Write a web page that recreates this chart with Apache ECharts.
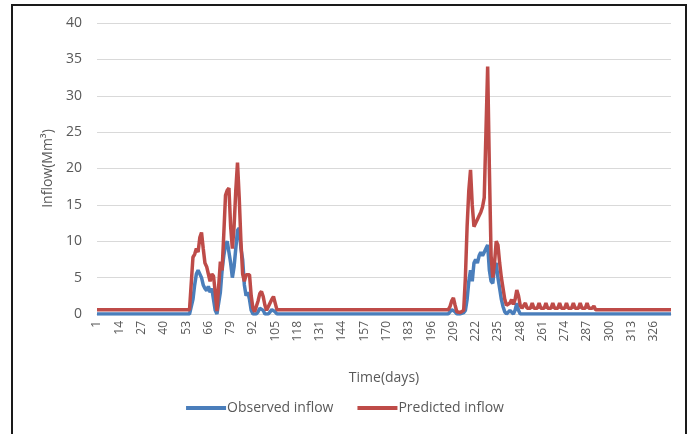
<!DOCTYPE html>
<html>
<head>
<meta charset="utf-8">
<script src="https://cdn.jsdelivr.net/npm/echarts@6/dist/echarts.min.js"></script>
<style>
html,body{margin:0;padding:0;background:#fff;}
#chart{width:690px;height:434px;}
</style>
</head>
<body>
<div id="chart"></div>
<script>
// Day numbers 1..336
const days = [];
for (let d = 1; d <= 336; d++) days.push(String(d));

const observedInflow = [
 0,0,0,0,0,0,0,0,0,0,
 0,0,0,0,0,0,0,0,0,0,
 0,0,0,0,0,0,0,0,0,0,
 0,0,0,0,0,0,0,0,0,0,
 0,0,0,0,0,0,0,0,0,0,
 0,0,0,0,0,0,2,4,5.5,6,
 6.2,5,4,3.5,3.2,3.8,3,3.5,2,0.5,
 0,0,3,6,8,9.5,10,10.2,7,5,
 6.5,9,11.5,11.8,9,7.5,4,2.5,3,2,
 0.5,0,0,0,0.3,0.8,1,0.5,0,0,
 0,0.3,0.6,0.8,0.3,0,0,0,0,0,
 0,0,0,0,0,0,0,0,0,0,
 0,0,0,0,0,0,0,0,0,0,
 0,0,0,0,0,0,0,0,0,0,
 0,0,0,0,0,0,0,0,0,0,
 0,0,0,0,0,0,0,0,0,0,
 0,0,0,0,0,0,0,0,0,0,
 0,0,0,0,0,0,0,0,0,0,
 0,0,0,0,0,0,0,0,0,0,
 0,0,0,0,0,0,0,0,0,0,
 0,0,0,0,0,0,0.2,0.6,0.8,0.3,
 0,0,0,0,0.2,0.5,2,4.5,6,4.5,
 7,7.5,7,8,8.5,8,8.5,9,9.5,6,
 4.5,4.2,6.5,7,5,3.5,2,1,0.3,0,
 0,0.5,0.3,0,0.5,1.5,0.5,0,0,0,
 0,0,0,0,0,0,0,0,0,0,
 0,0,0,0,0,0,0,0,0,0,
 0,0,0,0,0,0,0,0,0,0,
 0,0,0,0,0,0,0,0,0,0,
 0,0,0,0,0,0,0,0,0,0,
 0,0,0,0,0,0,0,0,0,0,
 0,0,0,0,0,0,0,0,0,0,
 0,0,0,0,0,0,0,0,0,0,
 0,0,0,0,0,0
];

const predictedInflow = [
 0.6,0.6,0.6,0.6,0.6,0.6,0.6,0.6,0.6,0.6,
 0.6,0.6,0.6,0.6,0.6,0.6,0.6,0.6,0.6,0.6,
 0.6,0.6,0.6,0.6,0.6,0.6,0.6,0.6,0.6,0.6,
 0.6,0.6,0.6,0.6,0.6,0.6,0.6,0.6,0.6,0.6,
 0.6,0.6,0.6,0.6,0.6,0.6,0.6,0.6,0.6,0.6,
 0.6,0.6,0.6,0.6,0.6,0.6,7.8,8.2,9,8.5,
 10.5,11.2,9,7,6.5,5.5,4.5,5.5,5.2,3,
 0.4,0.5,7.2,6,11,16.3,17,17.3,12,9,
 12,17,20.8,16,10,5.5,4.5,5.4,5.5,5.4,
 2.5,0.8,0.3,0.5,1.8,2.8,3.1,2.4,1.2,0.5,
 0.5,1.5,2,2.4,1.5,0.6,0.6,0.6,0.6,0.6,
 0.6,0.6,0.6,0.6,0.6,0.6,0.6,0.6,0.6,0.6,
 0.6,0.6,0.6,0.6,0.6,0.6,0.6,0.6,0.6,0.6,
 0.6,0.6,0.6,0.6,0.6,0.6,0.6,0.6,0.6,0.6,
 0.6,0.6,0.6,0.6,0.6,0.6,0.6,0.6,0.6,0.6,
 0.6,0.6,0.6,0.6,0.6,0.6,0.6,0.6,0.6,0.6,
 0.6,0.6,0.6,0.6,0.6,0.6,0.6,0.6,0.6,0.6,
 0.6,0.6,0.6,0.6,0.6,0.6,0.6,0.6,0.6,0.6,
 0.6,0.6,0.6,0.6,0.6,0.6,0.6,0.6,0.6,0.6,
 0.6,0.6,0.6,0.6,0.6,0.6,0.6,0.6,0.6,0.6,
 0.6,0.6,0.6,0.6,0.6,0.6,1,1.8,2.2,1.2,
 0.3,0.2,0.2,0.2,0.5,5,12,17,19.8,15,
 12,12.5,13,13.5,14,14.7,16,25,34,20,
 8,5,7,10,9.5,7,5,3.5,2,1.2,
 1,1.5,2,1.3,2,3.3,2.5,1.2,0.8,0.9,
 1.5,0.8,0.8,0.8,1.5,0.8,0.8,0.8,1.5,0.8,
 0.8,0.8,1.5,0.8,0.8,0.8,1.5,0.8,0.8,0.8,
 1.5,0.8,0.8,0.8,1.5,0.8,0.8,0.8,1.5,0.8,
 0.8,0.8,1.5,0.8,0.8,0.8,1.5,0.8,0.8,0.8,
 1.1,0.6,0.6,0.6,0.6,0.6,0.6,0.6,0.6,0.6,
 0.6,0.6,0.6,0.6,0.6,0.6,0.6,0.6,0.6,0.6,
 0.6,0.6,0.6,0.6,0.6,0.6,0.6,0.6,0.6,0.6,
 0.6,0.6,0.6,0.6,0.6,0.6,0.6,0.6,0.6,0.6,
 0.6,0.6,0.6,0.6,0.6,0.6
];

const yTicks = { min: 0, max: 40, interval: 5 };

const chart = echarts.init(document.getElementById('chart'), null, { renderer: 'canvas' });
const font = 'Open Sans, Liberation Sans, sans-serif';
chart.setOption({
  animation: false,
  backgroundColor: '#ffffff',
  textStyle: { fontFamily: font },
  graphic: [{
    type: 'rect',
    shape: { x: 12, y: 5, width: 674, height: 440 },
    style: { fill: 'none', stroke: '#1a1a1a', lineWidth: 2 },
    silent: true
  }],
  grid: { left: 97, right: 19, top: 23, bottom: 120, containLabel: false },
  legend: {
    bottom: 14,
    left: 'center',
    itemGap: 24,
    itemWidth: 40,
    itemHeight: 4,
    icon: 'rect',
    textStyle: { color: '#595959', fontSize: 14, fontFamily: font, padding: [0, 0, 0, -4] },
    data: ['Observed inflow', 'Predicted inflow']
  },
  xAxis: {
    type: 'category',
    data: days,
    boundaryGap: false,
    name: 'Time(days)',
    nameLocation: 'middle',
    nameGap: 57,
    nameTextStyle: { color: '#595959', fontSize: 14 },
    axisLine: { lineStyle: { color: '#d9d9d9' } },
    axisTick: { show: false },
    axisLabel: { interval: 12, rotate: 90, color: '#595959', fontSize: 12, margin: 7 },
    splitLine: { show: false }
  },
  yAxis: {
    type: 'value',
    min: yTicks.min,
    max: yTicks.max,
    interval: yTicks.interval,
    name: 'Inflow(Mm³)',
    nameLocation: 'middle',
    nameGap: 33,
    nameTextStyle: { color: '#595959', fontSize: 14 },
    axisLine: { show: false },
    axisTick: { show: false },
    axisLabel: { color: '#595959', fontSize: 14, margin: 15 },
    splitLine: { lineStyle: { color: '#d9d9d9', width: 1 } }
  },
  series: [
    {
      name: 'Observed inflow',
      type: 'line',
      data: observedInflow,
      showSymbol: false,
      symbol: 'none',
      lineStyle: { color: '#4a7ebb', width: 3.5 },
      itemStyle: { color: '#4a7ebb' }
    },
    {
      name: 'Predicted inflow',
      type: 'line',
      data: predictedInflow,
      showSymbol: false,
      symbol: 'none',
      lineStyle: { color: '#be4b48', width: 3.5 },
      itemStyle: { color: '#be4b48' }
    }
  ]
});
</script>
</body>
</html>
